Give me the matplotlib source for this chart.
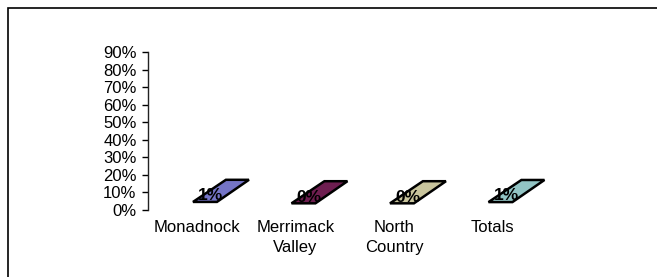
import matplotlib
matplotlib.use("Agg")
import matplotlib.pyplot as plt
from matplotlib.patches import Polygon, Rectangle

plt.rcParams['font.family'] = ['Liberation Sans', 'DejaVu Sans']

categories = ['Monadnock', 'Merrimack\nValley', 'North\nCountry', 'Totals']
values = [0.012, 0.004, 0.004, 0.011]
value_labels = ['1%', '0%', '0%', '1%']
colors = ['#7474C6', '#6E1E50', '#C9C59D', '#92C4C4']
yticks = [0.0, 0.1, 0.2, 0.3, 0.4, 0.5, 0.6, 0.7, 0.8, 0.9]

fig = plt.figure(figsize=(6.57, 2.77), dpi=100)
ax = fig.add_axes([0.2248, 0.2419, 0.5997, 0.5704])

# top face of each flat 3d bar (floor is offset like excel's 3d view)
for i, v in enumerate(values):
    front = 0.034 + v
    back = 0.16 + v
    pts = [(i - 0.04, front), (i + 0.203, front), (i + 0.528, back), (i + 0.294, back)]
    ax.add_patch(Polygon(pts, closed=True, facecolor=colors[i], edgecolor='black',
                         linewidth=1.8, clip_on=False))
    ax.text(i + 0.14, 0.07 + v, value_labels[i], ha='center', va='center',
            fontsize=12.5, fontweight='bold', color='black')

ax.set_xlim(-0.5, 3.5)
ax.set_ylim(0, 0.9)
ax.set_yticks(yticks)
ax.set_yticklabels(['%d%%' % round(t * 100) for t in yticks])
ax.set_xticks(range(len(categories)))
ax.set_xticklabels(categories, linespacing=1.4)

for s in ['top', 'right', 'bottom']:
    ax.spines[s].set_visible(False)
ax.spines['left'].set_color('#222222')
ax.spines['left'].set_linewidth(1.0)
ax.tick_params(axis='y', direction='out', length=4, width=1, pad=4, labelsize=12)
ax.tick_params(axis='x', length=0, pad=7, labelsize=12)

# chart area frame (only top/left edges fall inside the crop)
fig.patches.append(Rectangle((8 / 657, -0.1), 1.2, 0.1 + (277 - 7.5) / 277,
                             transform=fig.transFigure, fill=False,
                             edgecolor='black', linewidth=1.2))

fig.savefig('out.png', dpi=100)
